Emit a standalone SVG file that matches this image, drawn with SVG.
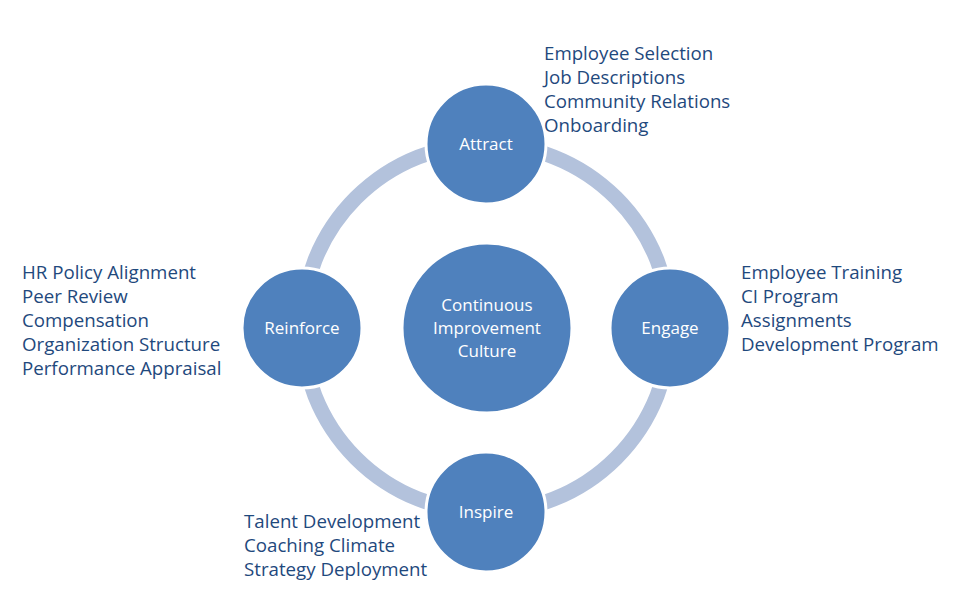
<svg xmlns="http://www.w3.org/2000/svg" width="961" height="592" viewBox="0 0 961 592">
<style>
.node{fill:#4F81BD;stroke:#FFFFFF;stroke-width:3}
.lbl{font-family:"Open Sans","Noto Sans",sans-serif;font-size:17px;fill:#FFFFFF;text-anchor:middle}
.lst{font-family:"Open Sans","Noto Sans",sans-serif;font-size:18.7px;fill:#1F497D}
</style>
<rect width="961" height="592" fill="#FFFFFF"/>
<g id="connectors">
<circle cx="486" cy="328" r="184" fill="none" stroke="#B3C2DC" stroke-width="15"/>
</g>
<g id="center">
<circle class="node" cx="487" cy="328" r="85"/>
<text class="lbl"><tspan x="487" y="311">Continuous</tspan><tspan x="487" y="334">Improvement</tspan><tspan x="487" y="357">Culture</tspan></text>
</g>
<g id="attract">
<circle class="node" cx="486" cy="144" r="60"/>
<text class="lbl" x="486" y="150">Attract</text>
</g>
<g id="engage">
<circle class="node" cx="670" cy="328" r="60"/>
<text class="lbl" x="670" y="334">Engage</text>
</g>
<g id="inspire">
<circle class="node" cx="486" cy="512" r="60"/>
<text class="lbl" x="486" y="518">Inspire</text>
</g>
<g id="reinforce">
<circle class="node" cx="302" cy="328" r="60"/>
<text class="lbl" x="302" y="334">Reinforce</text>
</g>
<g id="attract-list">
<text class="lst"><tspan x="544" y="60">Employee Selection</tspan><tspan x="544" y="84">Job Descriptions</tspan><tspan x="544" y="108">Community Relations</tspan><tspan x="544" y="132">Onboarding</tspan></text>
</g>
<g id="engage-list">
<text class="lst"><tspan x="741" y="279">Employee Training</tspan><tspan x="741" y="303">CI Program</tspan><tspan x="741" y="327">Assignments</tspan><tspan x="741" y="351">Development Program</tspan></text>
</g>
<g id="inspire-list">
<text class="lst"><tspan x="244" y="528">Talent Development</tspan><tspan x="244" y="552">Coaching Climate</tspan><tspan x="244" y="576">Strategy Deployment</tspan></text>
</g>
<g id="reinforce-list">
<text class="lst"><tspan x="22" y="279">HR Policy Alignment</tspan><tspan x="22" y="303">Peer Review</tspan><tspan x="22" y="327">Compensation</tspan><tspan x="22" y="351">Organization Structure</tspan><tspan x="22" y="375">Performance Appraisal</tspan></text>
</g>
</svg>
